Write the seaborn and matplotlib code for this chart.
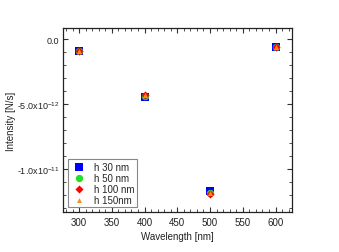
import matplotlib
matplotlib.use('Agg')
import matplotlib.pyplot as plt
from matplotlib.ticker import MultipleLocator, FixedLocator, FixedFormatter
import numpy as np
import pandas as pd
import seaborn as sns

# values (intensity in 1e-12 N/s)
wavelength = [300, 400, 500, 600]
h30 = [-0.95, -4.42, -11.72, -0.62]
h50 = [-0.95, -4.38, -11.80, -0.63]
h100 = [-0.93, -4.30, -11.88, -0.62]
h150 = [-0.94, -4.33, -11.86, -0.63]
series_names = ['h 30 nm', 'h 50 nm', 'h 100 nm', 'h 150nm']

rows = []
for name, vals in zip(series_names, [h30, h50, h100, h150]):
    for w, v in zip(wavelength, vals):
        rows.append({'Wavelength': w, 'Intensity': v * 1e-12, 'sample': name})
df = pd.DataFrame(rows)

sns.set_style('ticks')
plt.rcParams['font.family'] = ['Liberation Sans', 'DejaVu Sans']
plt.rcParams['mathtext.fontset'] = 'custom'
plt.rcParams['mathtext.rm'] = 'Liberation Sans'

fig = plt.figure(figsize=(3.39, 2.53), dpi=100)
ax = fig.add_axes([0.185, 0.158, 0.676, 0.726])

palette = {'h 30 nm': '#0000ff', 'h 50 nm': '#22e022',
           'h 100 nm': '#ff0000', 'h 150nm': '#ff8c1a'}
markers = {'h 30 nm': 's', 'h 50 nm': 'o', 'h 100 nm': 'D', 'h 150nm': '^'}
sizes = {'h 30 nm': 28, 'h 50 nm': 28, 'h 100 nm': 17, 'h 150nm': 13}

for name in series_names:
    sub = df[df['sample'] == name]
    sns.scatterplot(data=sub, x='Wavelength', y='Intensity', ax=ax,
                    color=palette[name], marker=markers[name], s=sizes[name],
                    linewidth=0, label=name, zorder=3)

ax.set_xlim(275, 625)
ax.set_ylim(-13.3e-12, 0.82e-12)

ax.xaxis.set_major_locator(MultipleLocator(50))
ax.xaxis.set_minor_locator(MultipleLocator(10))
yt = [-10e-12, -5e-12, 0.0]
ax.yaxis.set_major_locator(FixedLocator(yt))
ax.yaxis.set_major_formatter(FixedFormatter([r'-1.0x10$^{-11}$', r'-5.0x10$^{-12}$', '0.0']))
ax.yaxis.set_minor_locator(MultipleLocator(1e-12))

ax.tick_params(which='both', direction='in', top=True, right=True,
               colors='#333333', labelcolor='#222222')
ax.tick_params(axis='x', labelsize=7)
ax.tick_params(axis='y', labelsize=6.5, pad=2.5)
ax.tick_params(which='major', length=3.5, width=0.8)
ax.tick_params(which='minor', length=2, width=0.6)
for sp in ax.spines.values():
    sp.set_linewidth(0.9)
    sp.set_color('#222222')

ax.set_xlabel('Wavelength [nm]', fontsize=7, color='#222222', labelpad=3)
ax.set_ylabel('Intensity [N/s]', fontsize=7, color='#222222')
ax.yaxis.set_label_coords(-0.205, 0.5)

leg = ax.legend(loc='lower left', bbox_to_anchor=(0.022, 0.027), borderaxespad=0,
                fontsize=7, fancybox=False, edgecolor='#888888', framealpha=1,
                handletextpad=0.7, labelspacing=0.1, borderpad=0.25,
                handlelength=1.8)
leg.get_frame().set_linewidth(0.8)

fig.savefig('out.png', dpi=100)
